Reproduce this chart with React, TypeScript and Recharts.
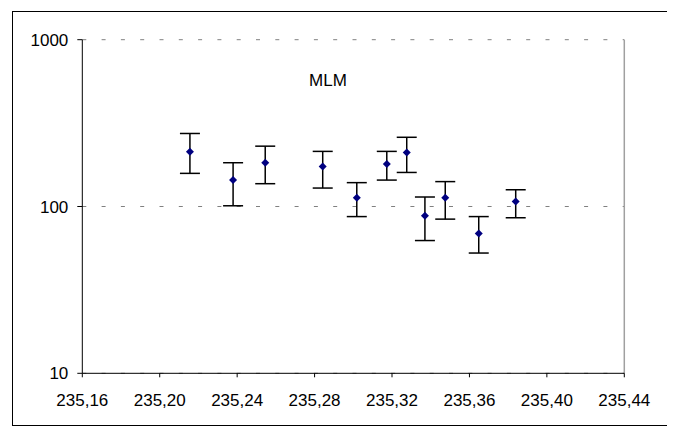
import React from "react";
import {
  ScatterChart,
  Scatter,
  XAxis,
  YAxis,
  CartesianGrid,
  ErrorBar,
  ReferenceLine,
} from "recharts";

// Measured positions (x) and values (y) with their error-bar ends
const xValues = [235.2156, 235.2379, 235.2545, 235.2842, 235.3018, 235.3173, 235.3276, 235.337, 235.3475, 235.3648, 235.3839];
const yValues = [213, 144, 183, 174, 113, 180, 211, 88, 113, 69, 107];
const upperValues = [274, 183, 230, 214, 139, 214, 260, 114, 141, 87, 126];
const lowerValues = [158, 101, 137, 129, 87, 144, 160, 62.5, 84, 52.6, 85.6];

const xTicks = [235.16, 235.2, 235.24, 235.28, 235.32, 235.36, 235.4, 235.44];
const yTicks = [10, 100, 1000];
const titleText = "MLM";

const data = xValues.map((x, i) => ({
  x,
  y: yValues[i],
  err: [yValues[i] - lowerValues[i], upperValues[i] - yValues[i]],
}));

const FONT = "Arial, 'Liberation Sans', sans-serif";

const Diamond = (props: any) => {
  const { cx, cy } = props;
  if (cx == null || cy == null) return null;
  const r = 4;
  return (
    <polygon
      points={`${cx},${cy - r} ${cx + r},${cy} ${cx},${cy + r} ${cx - r},${cy}`}
      fill="#000080"
      stroke="none"
    />
  );
};

export default function App() {
  return (
    <div style={{ position: "relative", width: 659, height: 421 }}>
      <div
        style={{
          position: "absolute",
          left: 4,
          top: 3,
          width: 657,
          height: 415,
          border: "1px solid #000",
          boxSizing: "border-box",
        }}
      />
      <ScatterChart
        width={659}
        height={421}
        margin={{ top: 31.7, right: 42.7, bottom: 25.7, left: 0 }}
        style={{ position: "absolute", left: 0, top: 0 }}
      >
        <CartesianGrid
          horizontal={true}
          vertical={false}
          stroke="#808080"
          strokeDasharray="4 15.3"
        />
        <XAxis
          type="number"
          dataKey="x"
          domain={[235.16, 235.44]}
          ticks={xTicks}
          allowDataOverflow
          height={30}
          tickSize={4}
          tickMargin={17}
          axisLine={{ stroke: "#000", strokeWidth: 1 }}
          tickLine={{ stroke: "#000" }}
          tick={{ fill: "#000", fontSize: 17, fontFamily: FONT }}
          tickFormatter={(v: number) => v.toFixed(2).replace(".", ",")}
          interval={0}
        />
        <YAxis
          type="number"
          dataKey="y"
          scale="log"
          domain={[10, 1000]}
          ticks={yTicks}
          allowDataOverflow
          width={74.3}
          tickSize={5}
          tickMargin={9}
          axisLine={{ stroke: "#000", strokeWidth: 1 }}
          tickLine={{ stroke: "#000" }}
          tick={{ fill: "#000", fontSize: 17, fontFamily: FONT }}
          interval={0}
        />
        <ReferenceLine x={235.44} stroke="#a0a0a0" strokeWidth={1.5} />
        <Scatter data={data} shape={<Diamond />} isAnimationActive={false}>
          <ErrorBar
            dataKey="err"
            direction="y"
            width={10}
            stroke="#000"
            strokeWidth={1.5}
            isAnimationActive={false}
          />
        </Scatter>
      </ScatterChart>
      <div
        style={{
          position: "absolute",
          left: 320,
          top: 64.4,
          transform: "translateX(-50%)",
          fontFamily: FONT,
          fontSize: 17,
          lineHeight: "17px",
          color: "#000",
          whiteSpace: "nowrap",
        }}
      >
        {titleText}
      </div>
    </div>
  );
}
